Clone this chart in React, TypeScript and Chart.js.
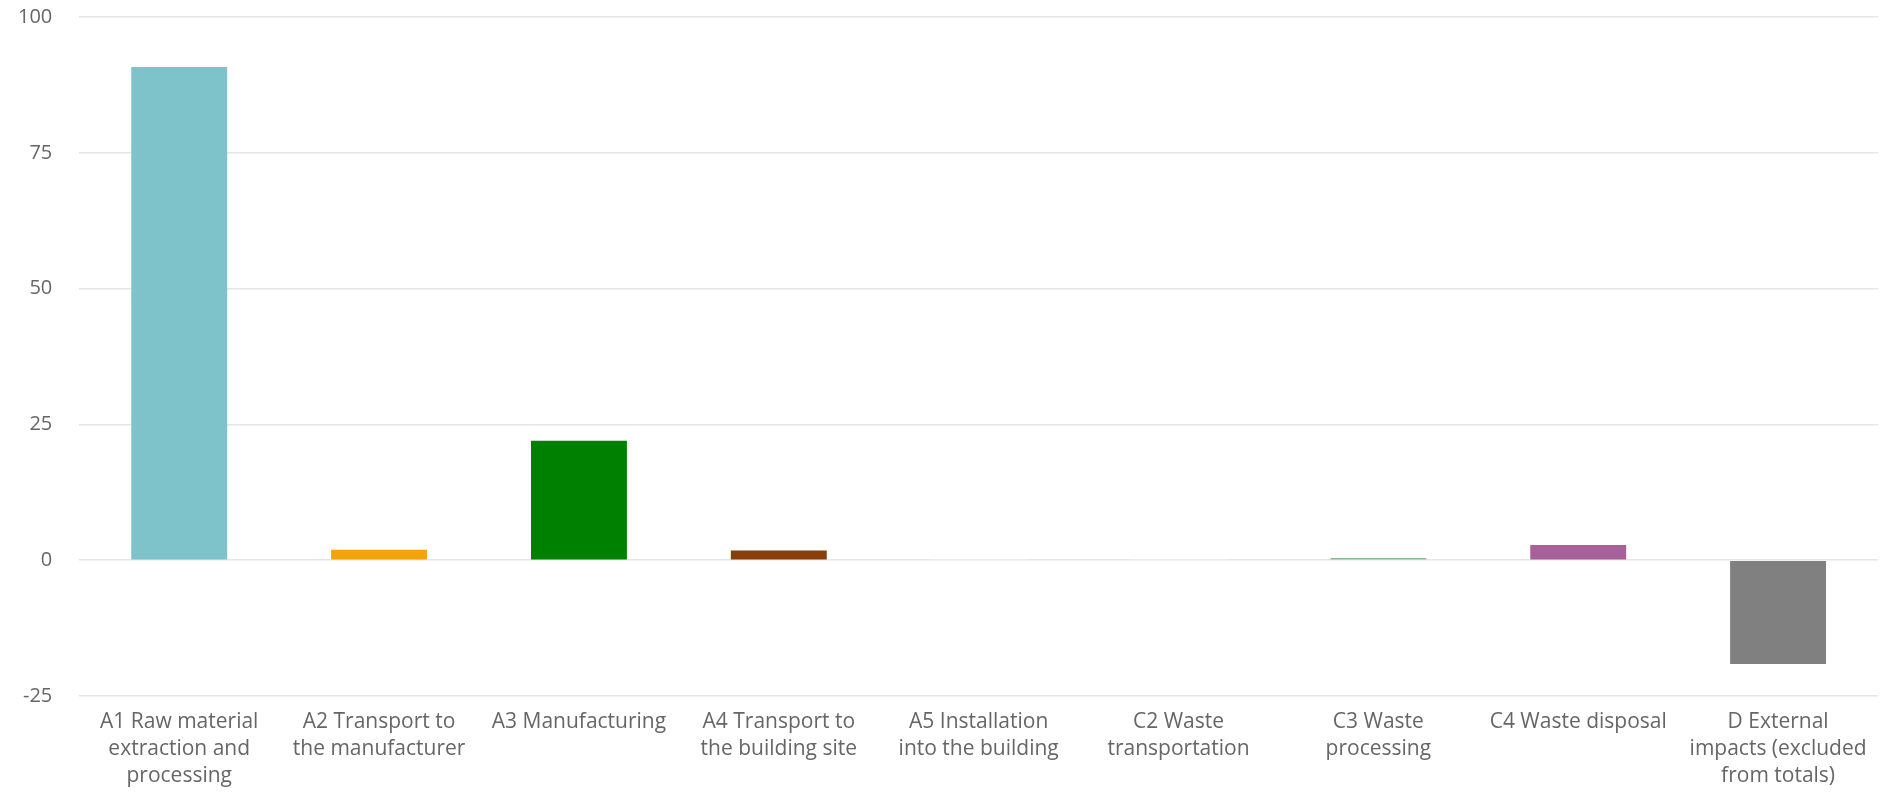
import React, { useEffect, useRef } from "react";
import { Chart, registerables } from "chart.js";

Chart.register(...registerables);

const categories: string[][] = [
  ["A1 Raw material", "extraction and", "processing"],
  ["A2 Transport to", "the manufacturer"],
  ["A3 Manufacturing"],
  ["A4 Transport to", "the building site"],
  ["A5 Installation", "into the building"],
  ["C2 Waste", "transportation"],
  ["C3 Waste", "processing"],
  ["C4 Waste disposal"],
  ["D External", "impacts (excluded", "from totals)"],
];

const values: number[] = [90.8, 1.9, 22.0, 1.8, 0.1, 0.1, 0.4, 2.8, -19.1];

const barColors: string[] = [
  "#7ec2ca",
  "#f5a30a",
  "#008000",
  "#8b3f08",
  "#ffffff",
  "#ffffff",
  "#8fbc8f",
  "#a8609a",
  "#808080",
];

const yMin = -25;
const yMax = 100;
const yStep = 25;

export default function App() {
  const ref = useRef<HTMLCanvasElement | null>(null);

  useEffect(() => {
    if (!ref.current) return;
    const chart = new Chart(ref.current, {
      type: "bar",
      data: {
        labels: categories,
        datasets: [
          {
            data: values,
            backgroundColor: barColors,
            borderWidth: 0,
            barPercentage: 0.48,
            categoryPercentage: 1,
          },
        ],
      },
      options: {
        animation: false,
        responsive: true,
        maintainAspectRatio: false,
        layout: { padding: { left: 18, right: 14, top: 17, bottom: -9 } },
        plugins: {
          legend: { display: false },
          tooltip: { enabled: false },
        },
        scales: {
          x: {
            grid: { display: false, drawTicks: false },
            border: { display: false },
            ticks: {
              autoSkip: false,
              maxRotation: 0,
              minRotation: 0,
              padding: 13,
              color: "#666666",
              font: { family: "'Open Sans', sans-serif", size: 21, lineHeight: 1.27 },
            },
          },
          y: {
            min: yMin,
            max: yMax,
            grid: {
              color: "#e6e6e6",
              lineWidth: 1.5,
              drawTicks: true,
              tickLength: 27,
              tickColor: "rgba(0,0,0,0)",
            },
            border: { display: false },
            ticks: {
              stepSize: yStep,
              padding: 0,
              color: "#666666",
              font: { family: "'Open Sans', sans-serif", size: 20 },
            },
          },
        },
      },
    });
    return () => chart.destroy();
  }, []);

  return (
    <div
      style={{
        position: "fixed",
        left: 0,
        top: 0,
        width: "1892px",
        height: "793px",
        background: "#ffffff",
      }}
    >
      <canvas ref={ref} />
    </div>
  );
}
